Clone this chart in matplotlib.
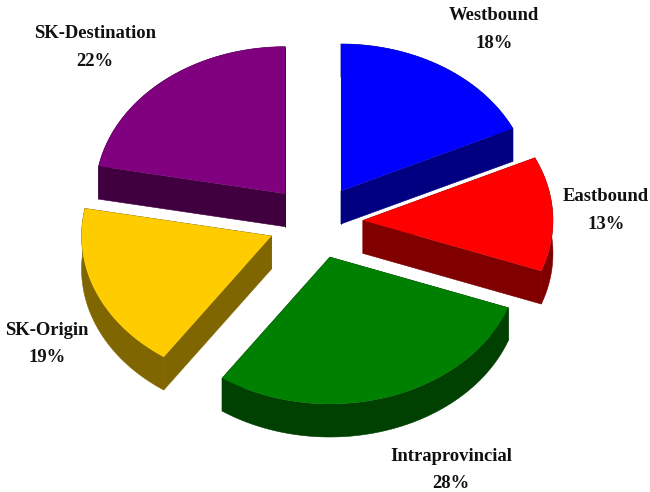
import numpy as np
import matplotlib
matplotlib.use("Agg")
import matplotlib.pyplot as plt

labels = ["Westbound", "Eastbound", "Intraprovincial", "SK-Origin", "SK-Destination"]
percent_labels = ["18%", "13%", "28%", "19%", "22%"]
shares = [18.0, 12.6, 29.0, 18.4, 22.0]
top_colors = ["#0000FF", "#FF0000", "#008000", "#FFCC00", "#800080"]
side_colors = ["#000080", "#800000", "#004000", "#806600", "#400040"]
label_xy = [(494, 29.5), (606, 210.5), (451, 470), (47, 344), (95, 47.5)]

center_x, center_y = 315.5, 222
rx, ry = 190, 147
depth = 33
explode = 0.25


def wedge_outline(start, end):
    # angles in degrees, clockwise from twelve o'clock
    mid = np.radians((start + end) / 2)
    ax_x = center_x + explode * rx * np.sin(mid)
    ax_y = center_y - explode * ry * np.cos(mid)
    t = np.radians(np.linspace(start, end, 60))
    xs = ax_x + rx * np.sin(t)
    ys = ax_y - ry * np.cos(t)
    return ax_x, ax_y, xs, ys


fig = plt.figure(figsize=(6.5, 4.92), dpi=100)
ax = fig.add_axes([0, 0, 1, 1])
ax.set_xlim(0, 650)
ax.set_ylim(492, 0)
ax.axis("off")

edges = np.cumsum([0] + shares) * 3.6

# back slices first so the front ones sit on top
order = [4, 0, 1, 3, 2]
for i in order:
    ax_x, ax_y, xs, ys = wedge_outline(edges[i], edges[i + 1])
    # rim
    ax.fill(np.r_[xs, xs[::-1]], np.r_[ys, ys[::-1] + depth],
            color=side_colors[i], lw=0.4, zorder=2)
    # the two cut faces
    for px, py in [(xs[0], ys[0]), (xs[-1], ys[-1])]:
        ax.fill([ax_x, px, px, ax_x], [ax_y, py, py + depth, ax_y + depth],
                color=side_colors[i], lw=0.4, zorder=2)
    ax.fill(np.r_[ax_x, xs], np.r_[ax_y, ys], color=top_colors[i], lw=0, zorder=3)

for i in range(len(labels)):
    ax.text(label_xy[i][0], label_xy[i][1],
            labels[i] + "\n" + percent_labels[i],
            family="Liberation Serif", weight="bold", fontsize=13.4, color="#111111",
            ha="center", va="center", linespacing=1.78, zorder=5)

fig.savefig("out.png", dpi=100)
